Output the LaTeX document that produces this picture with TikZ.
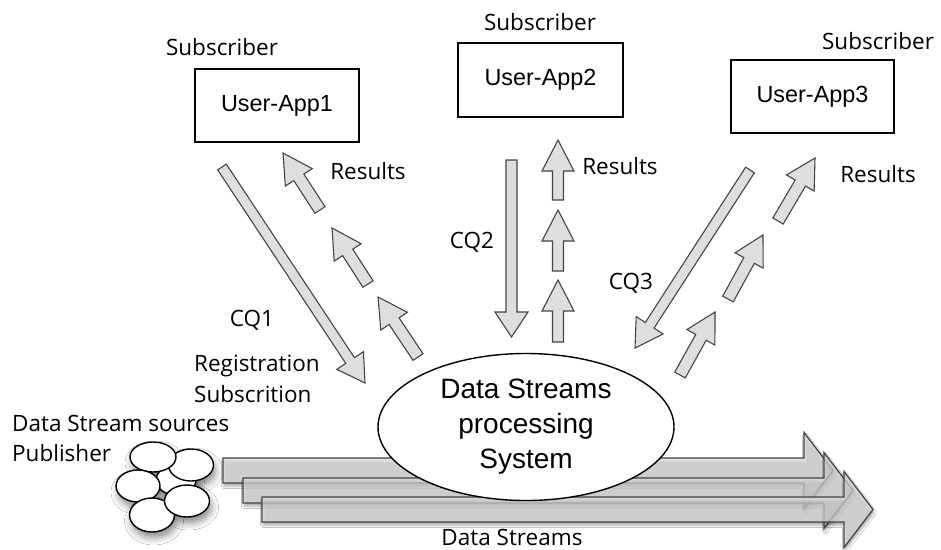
\documentclass[tikz,border=0pt]{standalone}
\usepackage{fontspec}
\setmainfont{Open Sans}
\newfontfamily\boxfont{Liberation Sans}
\usetikzlibrary{calc,shapes.geometric,shadows.blur}

\definecolor{arrfill}{gray}{0.87}
\definecolor{arrline}{gray}{0.27}

% block arrow: [style]{tail}{tip}{shaft half width}{head half width}{head length}
\newcommand\blockarrow[6][]{%
  \coordinate (#2#3base) at ($(#3)!#6!(#2)$);
  \path[#1] ($(#2)!#4!90:(#3)$) -- ($(#2#3base)!#4!90:(#3)$)
    -- ($(#2#3base)!#5!90:(#3)$) -- (#3)
    -- ($(#2#3base)!#5!-90:(#3)$) -- ($(#2#3base)!#4!-90:(#3)$)
    -- ($(#2)!#4!-90:(#3)$) -- cycle;}

\tikzset{
  lbl/.style={font=\fontsize{22.5}{30}\selectfont, inner sep=0pt},
  appbox/.style={draw, line width=1.4pt, minimum width=164pt, minimum height=73pt,
    font=\boxfont\fontsize{23.4}{28}\selectfont},
  flow/.style={draw=arrline, fill=arrfill, line width=1.1pt, line join=miter},
  stream/.style={draw=arrline, fill=arrfill, fill opacity=0.7, draw opacity=1,
    line width=1.3pt, line join=miter,
    blur shadow={shadow xshift=1pt, shadow yshift=-3pt, shadow blur radius=2.5pt,
      shadow opacity=35}},
  src/.style={ellipse, draw, fill=white, line width=1.4pt, inner sep=0pt},
}

\begin{document}
\begin{tikzpicture}[x=1pt, y=-1pt]
\useasboundingbox (0,0) rectangle (941,549);
\fill[white] (0,0) rectangle (941,549);

% subscriber applications
\node[appbox] (app1) at (277,105.5) {User-App1};
\node[appbox, minimum width=165pt, minimum height=74pt] (app2) at (540.5,80) {User-App2};
\node[appbox, minimum width=163pt] (app3) at (812.5,96.5) {User-App3};
\node[lbl] (sub1) at (222,47) {Subscriber};
\node[lbl] (sub2) at (540,22) {Subscriber};
\node[lbl] (sub3) at (878,41) {Subscriber};

% continuous queries and results, app 1
\coordinate (q1a) at (222,167);  \coordinate (q1b) at (365,383);
\coordinate (r1at) at (320,210); \coordinate (r1ah) at (283,153);
\coordinate (r1bt) at (368,284); \coordinate (r1bh) at (332,228);
\coordinate (r1ct) at (418,357); \coordinate (r1ch) at (378,297);
\blockarrow[flow]{q1a}{q1b}{5.2pt}{16pt}{27pt}
\blockarrow[flow]{r1at}{r1ah}{6pt}{16pt}{29pt}
\blockarrow[flow]{r1bt}{r1bh}{6pt}{16pt}{29pt}
\blockarrow[flow]{r1ct}{r1ch}{6pt}{16pt}{29pt}

% app 2
\coordinate (q2a) at (511.5,160); \coordinate (q2b) at (511.5,337);
\coordinate (r2at) at (558,200); \coordinate (r2ah) at (558,140);
\coordinate (r2bt) at (558,271); \coordinate (r2bh) at (558,210);
\coordinate (r2ct) at (558,342); \coordinate (r2ch) at (558,280);
\blockarrow[flow]{q2a}{q2b}{5.5pt}{16.5pt}{25pt}
\blockarrow[flow]{r2at}{r2ah}{5.5pt}{16pt}{31pt}
\blockarrow[flow]{r2bt}{r2bh}{5.5pt}{16pt}{31pt}
\blockarrow[flow]{r2ct}{r2ch}{5.5pt}{16pt}{31pt}

% app 3
\coordinate (q3a) at (750,170); \coordinate (q3b) at (635,348);
\coordinate (r3at) at (778,221); \coordinate (r3ah) at (815,158);
\coordinate (r3bt) at (728,299); \coordinate (r3bh) at (763,235);
\coordinate (r3ct) at (680,375); \coordinate (r3ch) at (715,312);
\blockarrow[flow]{q3a}{q3b}{5.2pt}{16pt}{27pt}
\blockarrow[flow]{r3at}{r3ah}{6pt}{16pt}{29pt}
\blockarrow[flow]{r3bt}{r3bh}{6pt}{16pt}{29pt}
\blockarrow[flow]{r3ct}{r3ch}{6pt}{16pt}{29pt}

\node[lbl] (res1) at (368,171) {Results};
\node[lbl] (res2) at (620,166) {Results};
\node[lbl] (res3) at (878,174) {Results};
\node[lbl] (cq1) at (252,320) {CQ1};
\node[lbl] (cq2) at (472,242) {CQ2};
\node[lbl] (cq3) at (631,283) {CQ3};
\node[lbl, anchor=west, align=left, font=\fontsize{22.5}{31}\selectfont]
  (reg) at (194,378.5) {Registration\\Subscrition};

% data streams
\coordinate (s1t) at (223,470.5); \coordinate (s1h) at (833,470.5);
\coordinate (s2t) at (243,490.5); \coordinate (s2h) at (853,490.5);
\coordinate (s3t) at (262,509.5); \coordinate (s3h) at (873,509.5);
\blockarrow[stream]{s1t}{s1h}{12.5pt}{38pt}{29pt}
\blockarrow[stream]{s2t}{s2h}{12.5pt}{38pt}{29pt}
\blockarrow[stream]{s3t}{s3h}{12.5pt}{38pt}{29pt}
\node[lbl] (dstreams) at (512,537) {Data Streams};

% processing system
\node[ellipse, draw, fill=white, line width=1.4pt, minimum width=296pt, minimum height=147pt,
  align=center, font=\boxfont\fontsize{28}{35}\selectfont] (dsps) at (526,427)
  {Data Streams\\processing\\System};

% publishing sources
\foreach \cx/\cy/\rx/\ry in {176/480/20/15, 191/465/22.5/16, 153/457/23/15,
    138/486/22/16, 152/515/22.5/17, 187/501/22.5/16}
  \path[blur shadow={shadow xshift=2pt, shadow yshift=-6pt, shadow blur radius=7pt,
      shadow opacity=45}] (\cx,\cy) ellipse (\rx pt and \ry pt);
\node[src, minimum width=40pt, minimum height=30pt] (e3) at (176,480) {};
\node[src, minimum width=45pt, minimum height=32pt] (e2) at (191,465) {};
\node[src, minimum width=46pt, minimum height=30pt] (e1) at (153,457) {};
\node[src, minimum width=44pt, minimum height=32pt] (e4) at (138,486) {};
\node[src, minimum width=45pt, minimum height=34pt] (e6) at (152,515) {};
\node[src, minimum width=45pt, minimum height=32pt] (e5) at (187,501) {};
\node[lbl, anchor=west, align=left, font=\fontsize{22.5}{30}\selectfont]
  (pub) at (12,438) {Data Stream sources\\Publisher};
\end{tikzpicture}
\end{document}
